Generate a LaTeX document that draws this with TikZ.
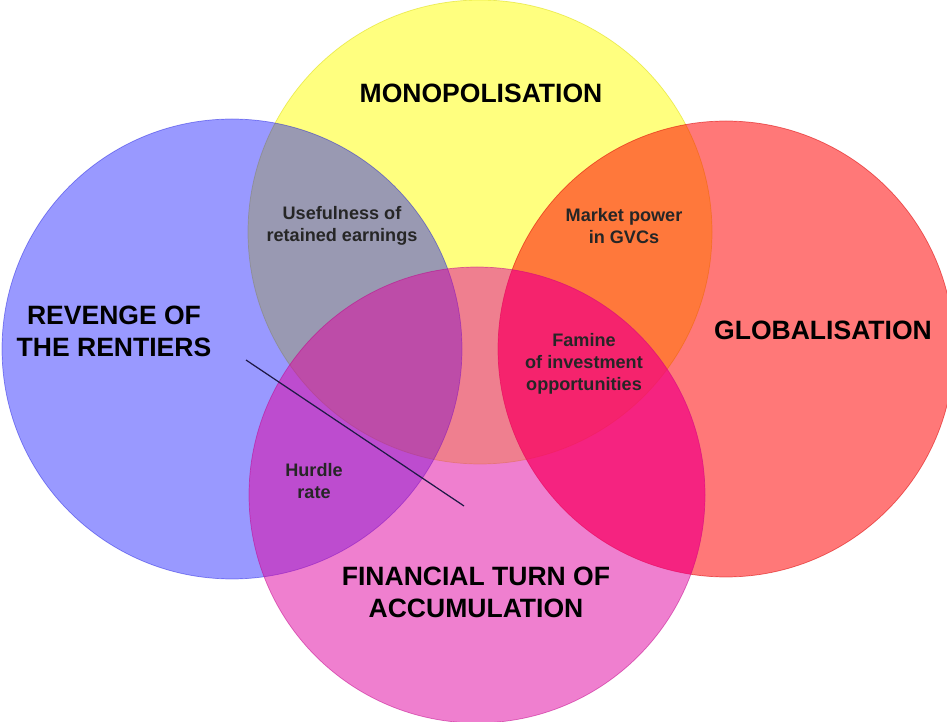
\documentclass[tikz,border=0pt]{standalone}
\usepackage{fontspec}
\setmainfont{Liberation Sans}
\usepackage{xcolor}
\usetikzlibrary{positioning}

\definecolor{setyellow}{RGB}{255,255,0}
\definecolor{setblue}{RGB}{0,0,255}
\definecolor{setred}{RGB}{255,0,0}
\definecolor{setpink}{RGB}{225,0,160}
\definecolor{hotpink}{RGB}{255,0,110}
\definecolor{linenavy}{RGB}{30,25,70}

\begin{document}
\begin{tikzpicture}[
    x=0.02cm, y=-0.02cm,
    set/.style 2 args={fill=#1, fill opacity=#2, draw=#1!85!black,
                       draw opacity=#2, line width=0.4pt},
    bigtxt/.style={font=\fontsize{15.1}{18.1}\selectfont\bfseries,
                   align=center, text=black},
    smalltxt/.style={font=\fontsize{10.3}{12.5}\selectfont\bfseries,
                     align=center, text=black!85},
  ]
  \useasboundingbox (0,0) rectangle (947,722);
  \fill[white] (0,0) rectangle (947,722);
  \clip (0,0) rectangle (947,722);

  % the four sets, drawn one over another
  \path[set={setyellow}{0.5}] (480,232) circle (232);
  \path[set={setblue}{0.4}]   (232,349) circle (230);
  \path[set={setred}{0.53}]   (726,349) circle (228);
  \path[set={setpink}{0.5}]   (477,495) circle (228);

  % globalisation and finance overlap is a brighter pink
  \begin{scope}
    \clip (726,349) circle (228);
    \fill[hotpink, fill opacity=0.4] (477,495) circle (228);
  \end{scope}

  % set names
  \node[bigtxt] (mono) at (481,93) {MONOPOLISATION};
  \node[bigtxt] (rent) at (114,331) {REVENGE OF\\THE RENTIERS};
  \node[bigtxt] (glob) at (823,330) {GLOBALISATION};
  \node[bigtxt] (fin)  at (476,592) {FINANCIAL TURN OF\\ACCUMULATION};

  % overlaps
  \node[smalltxt] (earn)   at (342,226) {Usefulness of\\retained earnings};
  \node[smalltxt] (gvc)    at (624,226) {Market power\\in GVCs};
  \node[smalltxt] (famine) at (584,364) {Famine\\of investment\\opportunities};
  \node[smalltxt] (hurdle) at (314,481) {Hurdle\\rate};

  \coordinate (cutfrom) at (246,360);
  \coordinate (cutto)   at (464,506);
  \draw[linenavy, line width=0.7pt] (cutfrom) -- (cutto);
\end{tikzpicture}
\end{document}
